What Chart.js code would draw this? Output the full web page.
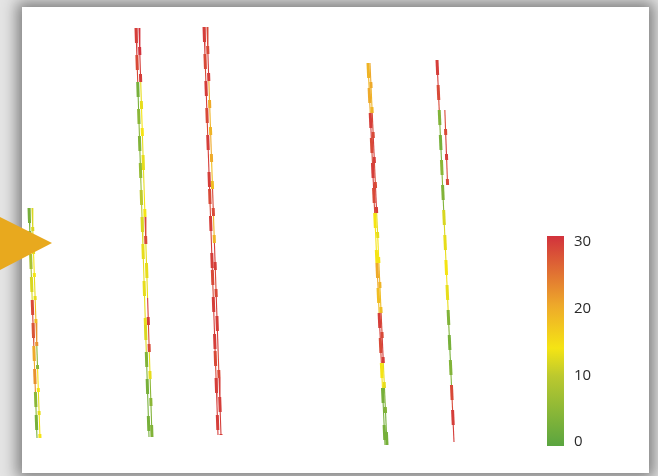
<!DOCTYPE html>
<html>
<head>
<meta charset="utf-8">
<script src="https://cdn.jsdelivr.net/npm/chart.js@4/dist/chart.umd.min.js"></script>
<style>
  html, body { margin: 0; padding: 0; width: 658px; height: 476px; overflow: hidden; background: #e4e4e4; }
  #panel { position: absolute; left: 22px; top: 7px; width: 627px; height: 466px; background: #ffffff;
           box-shadow: 0 0 14px 5px rgba(0,0,0,0.45); }
  #wrap { position: absolute; left: 0; top: 0; width: 658px; height: 476px; }
</style>
</head>
<body>
<div id="panel"></div>
<div id="wrap"><canvas id="c" width="658" height="476"></canvas></div>
<script>
// ---- Data: well trajectories (easting / depth) and log values per interval ----
const wellNames = ['W1', 'W2', 'W3', 'W4', 'W5'];

const w1Depth = [208, 231, 254, 277, 300, 323, 346, 369, 392, 415, 438];
const w1A = [3, 4, 8, 12, 28, 27, 20, 22, 5, 3];
const w1B = [12, 13, 14, 13, 18, 22, 5, 14, 13, 14];

const w2Depth = [28, 55, 82, 109, 136, 163, 190, 217, 244, 271, 298, 325, 352, 379, 406, 437];
const w2A = [29, 28, 3, 5, 4, 6, 10, 12, 13, 13, 13, 12, 4, 3, 3];
const w2B = [30, 29, 13, 14, 13, 13, 14, 28, 13, 13, 29, 28, 13, 5, 4];

const w3Depth = [27, 54, 81, 108, 135, 162, 189, 216, 243, 270, 297, 324, 351, 378, 405, 435];
const w3A = [29, 28, 29, 28, 29, 29, 28, 29, 29, 28, 29, 29, 28, 29, 29];
const w3B = [28, 29, 20, 19, 20, 18, 28, 19, 29, 28, 29, 29, 28, 29, 29];

const w4Depth = [63, 88, 113, 138, 163, 188, 213, 238, 263, 288, 313, 338, 363, 388, 413, 445];
const w4A = [19, 20, 29, 28, 29, 28, 14, 14, 20, 18, 29, 28, 14, 3, 3];
const w4B = [20, 19, 28, 29, 28, 29, 13, 14, 19, 18, 28, 29, 13, 4, 3];

const w5Depth = [60, 85, 110, 135, 160, 185, 210, 235, 260, 285, 310, 335, 360, 385, 410, 442];
const w5A = [29, 28, 4, 3, 5, 4, 12, 13, 14, 13, 4, 3, 4, 28, 29];
const w5BDepth = [110, 135, 160, 185];
const w5B = [28, 29, 28];

// surface / bottom easting of each curve
const curveTopX    = { w1A: 29,  w1B: 32,  w2A: 136, w2B: 139, w3A: 204, w3B: 207, w4A: 368, w4B: 370, w5A: 437, w5B: 443 };
const curveBottomX = { w1A: 37,  w1B: 40,  w2A: 149, w2B: 152, w3A: 218, w3B: 221, w4A: 385, w4B: 387, w5A: 454, w5B: 457 };

const colorbarTicks = [0, 10, 20, 30];
const valueMin = 0, valueMax = 30;

// ---- colour map ----
const stops = [
  [0,  [90, 165, 64]],
  [10, [188, 201, 46]],
  [14, [245, 228, 20]],
  [20, [238, 170, 42]],
  [30, [210, 50, 60]]
];
function colorFor(v) {
  if (v <= stops[0][0]) return 'rgb(' + stops[0][1].join(',') + ')';
  for (let i = 1; i < stops.length; i++) {
    if (v <= stops[i][0]) {
      const t = (v - stops[i-1][0]) / (stops[i][0] - stops[i-1][0]);
      const a = stops[i-1][1], b = stops[i][1];
      const c = a.map((x, k) => Math.round(x + (b[k] - x) * t));
      return 'rgb(' + c.join(',') + ')';
    }
  }
  return 'rgb(' + stops[stops.length-1][1].join(',') + ')';
}

const curves = [
  { key: 'w1A', depth: w1Depth, vals: w1A, well: 0 },
  { key: 'w1B', depth: w1Depth, vals: w1B, well: 0 },
  { key: 'w2A', depth: w2Depth, vals: w2A, well: 1 },
  { key: 'w2B', depth: w2Depth, vals: w2B, well: 1 },
  { key: 'w3A', depth: w3Depth, vals: w3A, well: 2 },
  { key: 'w3B', depth: w3Depth, vals: w3B, well: 2 },
  { key: 'w4A', depth: w4Depth, vals: w4A, well: 3 },
  { key: 'w4B', depth: w4Depth, vals: w4B, well: 3 },
  { key: 'w5A', depth: w5Depth, vals: w5A, well: 4 },
  { key: 'w5B', depth: w5BDepth, vals: w5B, well: 4 }
];

const wellTopDepth = [w1Depth[0], w2Depth[0], w3Depth[0], w4Depth[0], w5Depth[0]];
const wellBottomDepth = [w1Depth[w1Depth.length-1], w2Depth[w2Depth.length-1], w3Depth[w3Depth.length-1], w4Depth[w4Depth.length-1], w5Depth[w5Depth.length-1]];

const datasets = [];
curves.forEach((c, ci) => {
  const d0 = wellTopDepth[c.well], d1 = wellBottomDepth[c.well];
  const x0 = curveTopX[c.key], x1 = curveBottomX[c.key];
  const pts = c.depth.map(d => ({ x: x0 + (x1 - x0) * (d - d0) / (d1 - d0), y: d }));
  const seg = { borderColor: ctx => colorFor(c.vals[Math.min(ctx.p0DataIndex, c.vals.length - 1)]) };
  datasets.push({
    label: wellNames[c.well] + ' ' + c.key, data: pts, showLine: true, borderWidth: 1.1,
    pointRadius: 0, segment: seg, borderColor: colorFor(c.vals[0]), clip: false
  });
  datasets.push({
    label: wellNames[c.well] + ' ' + c.key + ' blocks', data: pts, showLine: true, borderWidth: 3,
    borderDash: [15, 22], borderDashOffset: (ci % 2) * 18, pointRadius: 0, segment: seg,
    borderColor: colorFor(c.vals[0]), clip: false
  });
});

const decor = {
  id: 'decor',
  afterDraw(chart) {
    const ctx = chart.ctx;
    const left = 547, w = 17, top = 236, bottom = 446;
    const g = ctx.createLinearGradient(0, bottom, 0, top);
    stops.forEach(s => g.addColorStop((s[0] - valueMin) / (valueMax - valueMin), 'rgb(' + s[1].join(',') + ')'));
    ctx.save();
    ctx.fillStyle = g;
    ctx.fillRect(left, top, w, bottom - top);
    ctx.fillStyle = '#2b2b2b';
    ctx.font = '15px "Open Sans", sans-serif';
    ctx.textBaseline = 'middle';
    ctx.textAlign = 'left';
    colorbarTicks.forEach(t => {
      const y = bottom - 4 - (t - valueMin) / (valueMax - valueMin) * (bottom - top - 10);
      ctx.fillText(String(t), 574, y);
    });
    ctx.fillStyle = '#e8a91e';
    ctx.beginPath();
    ctx.moveTo(0, 217);
    ctx.lineTo(52, 243);
    ctx.lineTo(0, 270);
    ctx.closePath();
    ctx.fill();
    ctx.restore();
  }
};

new Chart(document.getElementById('c'), {
  type: 'scatter',
  data: { datasets },
  options: {
    responsive: false,
    animation: false,
    layout: { padding: 0 },
    plugins: { legend: { display: false }, tooltip: { enabled: false } },
    scales: {
      x: { type: 'linear', min: 0, max: 658, display: false },
      y: { type: 'linear', min: 0, max: 476, reverse: true, display: false }
    }
  },
  plugins: [decor]
});
</script>
</body>
</html>
